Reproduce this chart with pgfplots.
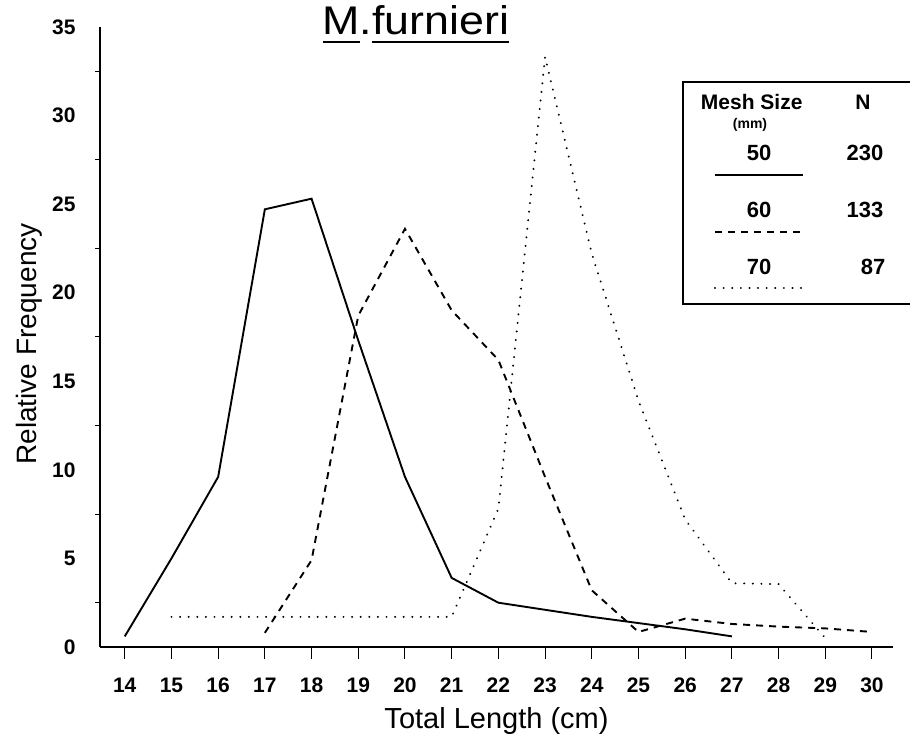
\documentclass[border=0pt]{standalone}
\usepackage{fontspec}
\setmainfont{Liberation Sans}
\usepackage{pgfplots}
\pgfplotsset{compat=1.18}
\newcommand\ulx[1]{\setbox0\hbox{#1}\rlap{\rule[-9pt]{\wd0}{2pt}}\box0}
\begin{document}
\begin{tikzpicture}
\path[use as bounding box] (-100pt,-90pt) rectangle (810pt,647pt);
\begin{axis}[
  at={(0pt,0pt)}, anchor=south west,
  scale only axis, width=793pt, height=620.2pt,
  xmin=13.47, xmax=30.45, ymin=0, ymax=35,
  axis lines=left,
  axis line style={-, line width=1.6pt},
  xtick={14,15,...,30},
  ytick={0,5,...,35},
  minor ytick={2.5,7.5,...,32.5},
  tick align=outside,
  xtick style={/pgfplots/major tick length=12pt, line width=1pt, black},
  ytick style={/pgfplots/major tick length=0pt},
  minor tick length=5pt,
  minor tick style={line width=1pt, black},
  /pgf/number format/assume math mode=true,
  tick label style={font=\fontsize{21}{21}\selectfont\bfseries, inner sep=0pt},
  xticklabel style={anchor=base, yshift=-41pt},
  yticklabel style={anchor=east, xshift=-20pt},
  xlabel={Total Length (cm)},
  xlabel style={at={([yshift=-81pt]axis description cs:0.5,0)}, anchor=base, font=\fontsize{29}{29}\selectfont, inner sep=0pt},
  ylabel={Relative Frequency},
  ylabel style={at={([xshift=-63pt]axis description cs:0,0.4886)}, anchor=base, rotate=0, font=\fontsize{28}{28}\selectfont, inner sep=0pt},
  title={\scalebox{1.12}[1]{\ulx{M}.\ulx{furnieri}}},
  title style={at={(axis description cs:0.3985,0.9787)}, anchor=base, font=\fontsize{40}{40}\selectfont, inner sep=0pt},
]
% 50 mm
\addplot[black, line width=1.9pt] coordinates {
(14,0.6) (15,5.0) (16,9.6) (17,24.7) (18,25.3) (19,17.3) (20,9.6) (21,3.9)
(22,2.5) (23,2.1) (24,1.7) (25,1.35) (26,1.0) (27,0.6)};
% 60 mm
\addplot[black, line width=1.9pt, dash pattern=on 7pt off 6pt] coordinates {
(17,0.8) (18,4.9) (19,18.7) (20,23.6) (21,19.0) (22,16.2) (23,9.6) (24,3.2)
(25,0.85) (26,1.6) (27,1.3) (28,1.15) (29,1.05) (30,0.85)};
% 70 mm
\addplot[black, line width=2.1pt, line cap=round, dash pattern=on 0.1pt off 8.5pt] coordinates {
(15,1.7) (16,1.7) (17,1.7) (18,1.7) (19,1.7) (20,1.7) (21,1.7) (22,7.8)
(23,33.3) (24,22.2) (25,13.9) (26,7.2) (27,3.6) (28,3.55) (29,0.5)};
\end{axis}
% legend box
\draw[line width=1.3pt] (850pt,565pt) -- (583pt,565pt) -- (583pt,343pt) -- (850pt,343pt);
\node[anchor=base, font=\fontsize{21}{21}\selectfont\bfseries, inner sep=0pt] at (651.7pt,537pt) {Mesh Size};
\node[anchor=base, font=\fontsize{21}{21}\selectfont\bfseries, inner sep=0pt] at (763pt,537pt) {N};
\node[anchor=base, font=\fontsize{14}{14}\selectfont\bfseries, inner sep=0pt] at (650pt,518pt) {(mm)};
\node[anchor=base, font=\fontsize{22}{22}\selectfont\bfseries, inner sep=0pt] at (659pt,486pt) {50};
\node[anchor=base, font=\fontsize{22}{22}\selectfont\bfseries, inner sep=0pt] at (765pt,486pt) {230};
\draw[line width=1.9pt] (615pt,472pt) -- (703pt,472pt);
\node[anchor=base, font=\fontsize{22}{22}\selectfont\bfseries, inner sep=0pt] at (659pt,429pt) {60};
\node[anchor=base, font=\fontsize{22}{22}\selectfont\bfseries, inner sep=0pt] at (765pt,429pt) {133};
\draw[line width=1.9pt, dash pattern=on 7pt off 6pt] (615pt,415pt) -- (703pt,415pt);
\node[anchor=base, font=\fontsize{22}{22}\selectfont\bfseries, inner sep=0pt] at (659pt,372pt) {70};
\node[anchor=base, font=\fontsize{22}{22}\selectfont\bfseries, inner sep=0pt] at (773pt,372pt) {87};
\draw[line width=2.1pt, line cap=round, dash pattern=on 0.1pt off 8.5pt] (615pt,359pt) -- (703pt,359pt);
\end{tikzpicture}
\end{document}
